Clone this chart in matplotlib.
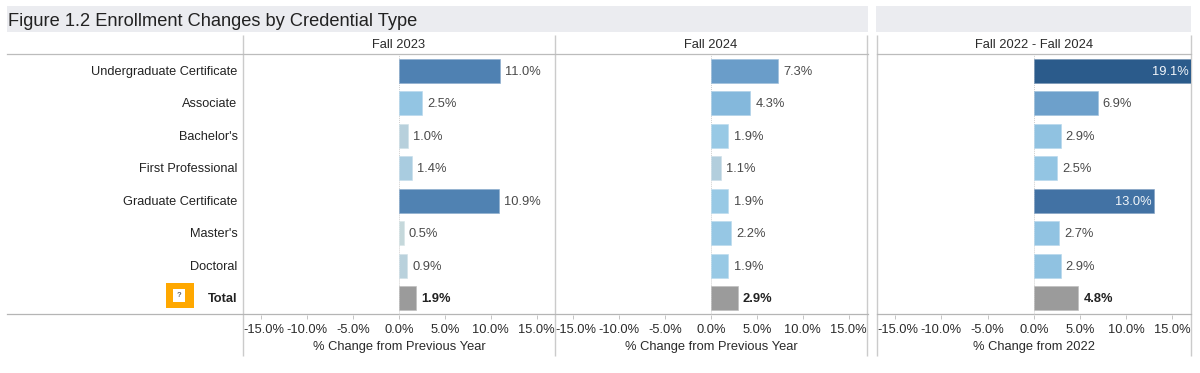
import matplotlib
matplotlib.use("Agg")
import matplotlib.pyplot as plt
from matplotlib.colors import LinearSegmentedColormap, to_rgba
from matplotlib.patches import Rectangle
from matplotlib.transforms import ScaledTranslation

plt.rcParams['font.family'] = ['Liberation Sans', 'DejaVu Sans']

TITLE = "Figure 1.2 Enrollment Changes by Credential Type"
categories = ["Undergraduate Certificate", "Associate", "Bachelor's", "First Professional",
              "Graduate Certificate", "Master's", "Doctoral", "Total"]
fall_2023 = [11.0, 2.5, 1.0, 1.4, 10.9, 0.5, 0.9, 1.9]
fall_2024 = [7.3, 4.3, 1.9, 1.1, 1.9, 2.2, 1.9, 2.9]
fall_22_24 = [19.1, 6.9, 2.9, 2.5, 13.0, 2.7, 2.9, 4.8]
panel_titles = ["Fall 2023", "Fall 2024", "Fall 2022 - Fall 2024"]
panel_xlabels = ["% Change from Previous Year", "% Change from Previous Year", "% Change from 2022"]
x_ticks = [-15, -10, -5, 0, 5, 10, 15]

W, H = 1200, 373
fig = plt.figure(figsize=(W / 100, H / 100), dpi=100, facecolor="white")

def px_axes(x0, y0, x1, y1, **kw):
    return fig.add_axes([x0 / W, 1 - y1 / H, (x1 - x0) / W, (y1 - y0) / H], **kw)

# value -> colour, as a continuous blue ramp
stops = [(0.5, "#c5d8db"), (1.0, "#b5cfdc"), (1.9, "#98c9e5"), (4.3, "#84b8dc"),
         (7.3, "#6a9dc9"), (11.0, "#4f81b2"), (13.0, "#4272a4"), (19.1, "#2b5b8b")]
lo, hi = stops[0][0], stops[-1][0]
cmap = LinearSegmentedColormap.from_list("ramp", [((v - lo) / (hi - lo), c) for v, c in stops])
def colour(v):
    return cmap((v - lo) / (hi - lo))

# overlay in pixel coordinates for bands and frame
ov = px_axes(0, 0, W, H, zorder=0)
ov.set_xlim(0, W); ov.set_ylim(H, 0); ov.axis("off")
GREY = "#cbcbcb"
for x0, x1 in [(7, 867.5), (876, 1190.5)]:
    ov.add_patch(Rectangle((x0, 6), x1 - x0, 26, fc="#ebecf0", ec="none"))
ov.text(7.5, 21, TITLE, fontsize=13.15, color="#222222", va="center", ha="left")
for x in (243, 555, 867, 877, 1190.5):
    ov.plot([x, x], [35, 355.5], color=GREY, lw=1.0, solid_capstyle="butt")
for x0, x1 in [(7, 867.5), (877, 1190.5)]:
    ov.plot([x0, x1], [54.3, 54.3], color="#bcbcbc", lw=0.9)
    ov.plot([x0, x1], [314.3, 314.3], color="#b5b5b5", lw=0.9)

FS = 9.3
panels = [(243, 555, 17.0, fall_2023), (555, 867, 17.0, fall_2024), (877, 1190.5, 16.95, fall_22_24)]
for (x0, x1, lim, vals), head, xl in zip(panels, panel_titles, panel_xlabels):
    ax = px_axes(x0, 54.5, x1, 314.5, zorder=2)
    ax.patch.set_alpha(0)
    ax.set_xlim(-lim, lim)
    ax.set_ylim(7.5, -0.5)
    for s in ax.spines.values():
        s.set_visible(False)
    ax.axvline(0, color="#cfcfcf", lw=0.7, ls=(0, (1, 1)), zorder=1)
    for i, v in enumerate(vals):
        is_total = categories[i] == "Total"
        c = "#9b9b9b" if is_total else colour(v)
        edge = tuple(0.65 * a + 0.35 for a in to_rgba(c)[:3])
        ax.barh(i, v, height=0.74, color=c, edgecolor=edge, linewidth=0.45, zorder=2)
        if v >= 13:
            ax.annotate(f"{v:.1f}%", (min(v, lim), i), xytext=(-1.6, -0.7), textcoords="offset points",
                        color="#f2f6fa", fontsize=FS, va="center", ha="right", zorder=3)
        else:
            ax.annotate(f"{v:.1f}%", (v, i), xytext=(3.7, -0.7), textcoords="offset points",
                        color="#222222" if is_total else "#4a4a4a", fontsize=FS,
                        fontweight="bold" if is_total else "normal", va="center", ha="left", zorder=3)
    ax.set_yticks([])
    ax.set_xticks(x_ticks)
    ax.set_xticklabels([f"{t:.1f}%" for t in x_ticks], fontsize=FS, color="#2a2a2a")
    ax.tick_params(axis="x", length=3, width=0.7, color="#c4c4c4", pad=3.9)
    first = ax.get_xticklabels()[0]
    first.set_transform(first.get_transform() + ScaledTranslation(2.5 / 100, 0, fig.dpi_scale_trans))
    ov.text((x0 + x1) / 2, 45, head, fontsize=FS, color="#2a2a2a", ha="center", va="center")
    ov.text((ax.transData.transform((0, 0))[0]), 347, xl, fontsize=FS, color="#2a2a2a",
            ha="center", va="center")

row_h = 260 / len(categories)
for i, name in enumerate(categories):
    bold = name == "Total"
    ov.text(237.5, 55.3 + row_h * (i + 0.5), name, fontsize=9.2, color="#222222", ha="right", va="center",
            fontweight="bold" if bold else "normal")

# help icon beside Total
ov.add_patch(Rectangle((166, 282.7), 27.5, 25.3, fc="#ffa800", ec="none"))
ov.add_patch(Rectangle((173, 289), 12, 12.7, fc="white", ec="none"))
ov.text(179, 295.3, "?", fontsize=5.5, fontweight="bold", color="#666666", ha="center", va="center")

fig.savefig("out.png", dpi=100)
